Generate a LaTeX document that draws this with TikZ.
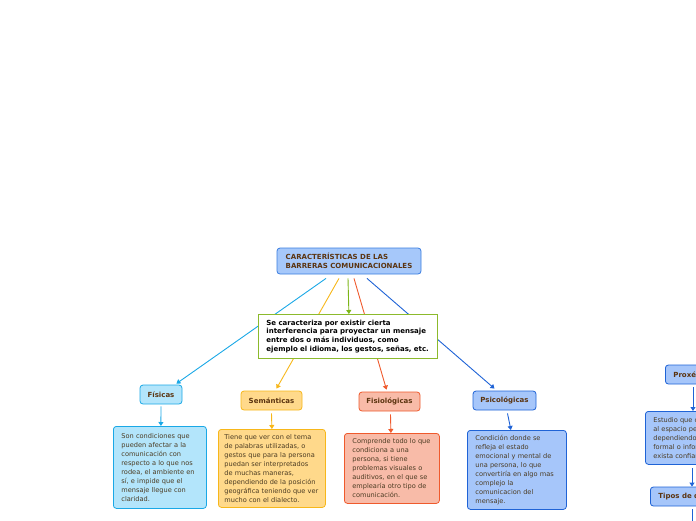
\documentclass[tikz,border=0pt]{standalone}
\usepackage{fontspec}
\setmainfont{DejaVu Sans}
\usetikzlibrary{arrows.meta}
\definecolor{titletext}{HTML}{5B3410}
\definecolor{bodytext}{HTML}{4B3B22}
\definecolor{rootfill}{HTML}{A6C8FA}
\definecolor{rootline}{HTML}{3A7DE0}
\definecolor{fisfill}{HTML}{B3E5FB}
\definecolor{fisline}{HTML}{1AA8E6}
\definecolor{semfill}{HTML}{FFD98B}
\definecolor{semline}{HTML}{F7B71A}
\definecolor{fiofill}{HTML}{F8BBA8}
\definecolor{fioline}{HTML}{EF5A2D}
\definecolor{psifill}{HTML}{A6C6FA}
\definecolor{psiline}{HTML}{1F63D6}
\definecolor{defline}{HTML}{8CBA2C}
\definecolor{defarrow}{HTML}{7CB518}
\begin{document}
\begin{tikzpicture}[x=1pt,y=-1pt,
  box/.style={draw, rounded corners=3pt, line width=0.8pt, inner ysep=0pt, inner xsep=8pt, align=left,
    font=\fontsize{7}{8.6}\selectfont\bfseries, text=titletext},
  desc/.style={draw, rounded corners=3pt, line width=0.8pt, inner ysep=0pt, inner xsep=8pt, align=left,
    font=\fontsize{6.6}{9}\selectfont, text=bodytext},
  link/.style={line width=0.9pt, -{Triangle[width=5pt,length=4pt]}},
]
  \useasboundingbox (0,0) rectangle (696,520);
  \clip (0,0) rectangle (696,520);

  \node[box, fill=rootfill, draw=rootline, minimum width=144pt, minimum height=26pt] (R) at (349,261)
    {CARACTERÍSTICAS DE LAS\\BARRERAS COMUNICACIONALES};

  % category boxes
  \node[box, fill=fisfill, draw=fisline, inner xsep=0pt, minimum width=42pt, minimum height=19pt] (fis) at (161,394.5) {Físicas};
  \node[box, fill=semfill, draw=semline, inner xsep=0pt, minimum width=61pt, minimum height=19pt] (sem) at (271.5,400.5) {Semánticas};
  \node[box, fill=fiofill, draw=fioline, inner xsep=0pt, minimum width=61pt, minimum height=19pt] (fio) at (389.5,401.5) {Fisiológicas};
  \node[box, fill=psifill, draw=psiline, inner xsep=0pt, minimum width=63pt, minimum height=19pt] (psi) at (504.5,400.5) {Psicológicas};
  \node[box, fill=psifill, draw=psiline, minimum height=19pt, anchor=west] (prox) at (665,374.5) {Proxémica};

  % descriptions
  \node[desc, fill=fisfill, draw=fisline, text width=77pt, minimum height=82pt, anchor=north west] (fisd) at (113,426)
    {Son condiciones que\\pueden afectar a la\\comunicación con\\respecto a lo que nos\\rodea, el ambiente en\\sí, e impide que el\\mensaje llegue con\\claridad.};
  \node[desc, fill=semfill, draw=semline, inner xsep=6pt, text width=95pt, minimum height=78pt, anchor=north west] (semd) at (218,429)
    {Tiene que ver con el tema\\de palabras utilizadas, o\\gestos que para la persona\\puedan ser interpretados\\de muchas maneras,\\dependiendo de la posición\\geográfica teniendo que ver\\mucho con el dialecto.};
  \node[desc, fill=fiofill, draw=fioline, text width=79pt, minimum height=70pt, anchor=north west] (fiod) at (344,433)
    {Comprende todo lo que\\condiciona a una\\persona, si tiene\\problemas visuales o\\auditivos, en el que se\\emplearía otro tipo de\\comunicación.};
  \node[desc, fill=psifill, draw=psiline, text width=83pt, minimum height=79pt, anchor=north west] (psid) at (467,430)
    {Condición donde se\\refleja el estado\\emocional y mental de\\una persona, lo que\\convertiría en algo mas\\complejo la\\comunicacion del\\mensaje.};
  \node[desc, fill=psifill, draw=psiline, text width=84pt, minimum height=53pt, anchor=north west] (proxd) at (645,411)
    {Estudio que concierne\\al espacio personal,\\dependiendo si es\\formal o informal o\\exista confianza.};
  \node[box, fill=psifill, draw=psiline, minimum height=19pt, anchor=west] (tipos) at (650,496.5)
    {Tipos de distancia};
  \coordinate (tiposend) at (692,522);

  % connectors from the title
  \draw[link, fisline] ([xshift=-23pt,yshift=-4pt]R.south) -- ([xshift=-6pt,yshift=1pt]fis.north east);
  \draw[link, semline] ([xshift=-10pt,yshift=-4pt]R.south) -- ([xshift=5pt,yshift=2pt]sem.north);
  \draw[link, fioline] ([xshift=5pt,yshift=-4pt]R.south) -- ([xshift=-3pt,yshift=2pt]fio.north);
  \draw[link, psiline] ([xshift=18pt,yshift=-4pt]R.south) -- ([xshift=-10pt,yshift=2pt]psi.north);

  \node[draw=defline, fill=white, line width=0.8pt, inner ysep=0pt, inner xsep=8pt, text width=163pt, minimum height=44pt,
    align=left, font=\fontsize{7}{8.7}\selectfont\bfseries, anchor=north west] (def) at (258,314)
    {Se caracteriza por existir cierta\\interferencia para proyectar un mensaje\\entre dos o más individuos, como\\ejemplo el idioma, los gestos, señas, etc.};
  \draw[link, defarrow] ([xshift=-1pt,yshift=-4pt]R.south) -- ([xshift=1pt]def.north);

  % connectors to the descriptions
  \draw[link, fisline] ([yshift=-2pt]fis.south) -- ([xshift=1pt]fisd.north);
  \draw[link, semline] ([yshift=-3pt]sem.south) -- (semd.north);
  \draw[link, fioline] ([xshift=1pt,yshift=-3pt]fio.south) -- ([xshift=-1pt]fiod.north);
  \draw[link, psiline] ([xshift=3pt,yshift=-3pt]psi.south) -- ([xshift=-6pt]psid.north);
  \draw[link, psiline] ([xshift=28pt,yshift=-3pt]prox.south west) -- ([xshift=48pt]proxd.north west);
  \draw[link, psiline] ([xshift=47pt,yshift=-3pt]proxd.south west) -- ([xshift=42pt]tipos.north west);
  \draw[line width=0.9pt, psiline] ([xshift=42pt,yshift=-3pt]tipos.south west) -- (tiposend);
\end{tikzpicture}
\end{document}
